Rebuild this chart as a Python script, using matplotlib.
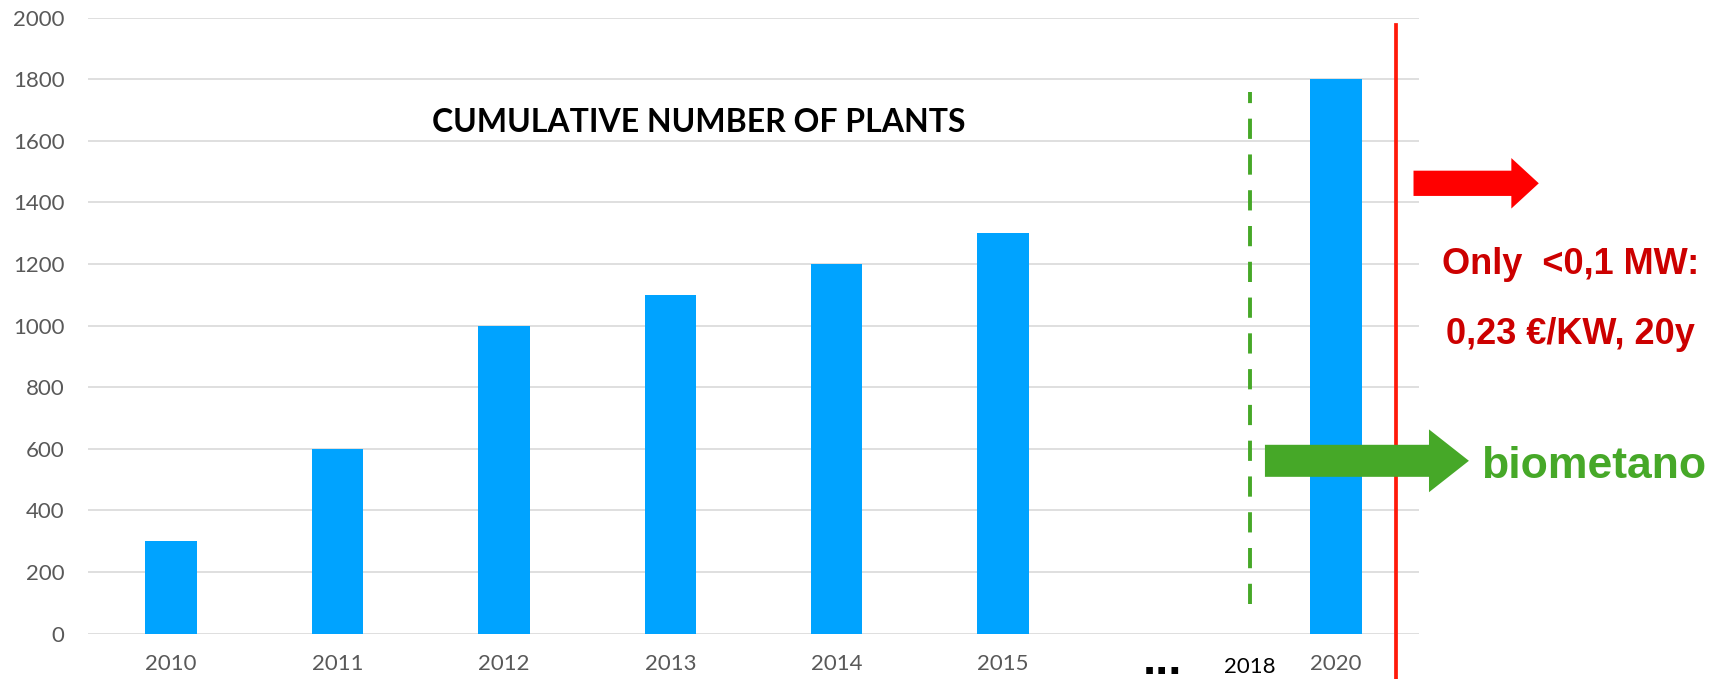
import matplotlib
matplotlib.use('Agg')
import matplotlib.pyplot as plt
from matplotlib.patches import FancyArrow

# ---- data ----
years = ['2010', '2011', '2012', '2013', '2014', '2015', '', '2020']
plants = [300, 600, 1000, 1100, 1200, 1300, 0, 1800]
yticks = [0, 200, 400, 600, 800, 1000, 1200, 1400, 1600, 1800, 2000]
title = 'CUMULATIVE NUMBER OF PLANTS'
gap_label = '...'
marker_label = '2018'
note_lines = ['Only  <0,1 MW:', '0,23 €/KW, 20y']
green_label = 'biometano'

# ---- style ----
BAR = '#00A3FF'
GRID = '#D9D9D9'
TICK = '#595959'
GREEN = '#46A828'
DARKRED = '#CC0000'

fig = plt.figure(figsize=(17.25, 6.79), dpi=100)
ax = fig.add_axes([88 / 1725, 45.4 / 679, 1331 / 1725, 616 / 679])

x = list(range(len(years)))
ax.bar(x, plants, width=0.31, color=BAR, zorder=2)

ax.set_xlim(-0.5, len(years) - 0.5)
ax.set_ylim(0, 2000)
ax.set_yticks(yticks)
ax.set_yticklabels([str(t) for t in yticks], fontsize=16, color=TICK, family='Lato')
ax.set_xticks(x)
ax.set_xticklabels(years, fontsize=16, color=TICK, family='Lato')
ax.tick_params(axis='both', length=0)
ax.tick_params(axis='x', pad=15)
ax.tick_params(axis='y', pad=17)
ax.grid(axis='y', color=GRID, lw=1.2, zorder=0)
ax.set_axisbelow(True)
for s in ax.spines.values():
    s.set_visible(False)

# gap marker "..."
ax.text(5.96, -131, gap_label, ha='center', va='baseline', fontsize=34,
        fontweight='bold', family='Liberation Sans', color='black', clip_on=False)

# title
ax.text(3.17, 1628, title, ha='center', va='baseline', fontsize=23,
        fontweight='bold', family='Lato', color='black')

# 2018 marker: dashed green line and label
mx = 6.483
ax.plot([mx, mx], [96, 1759], color=GREEN, lw=2.8, linestyle=(0, (5.2, 4)), zorder=3)
ax.text(mx, -128, marker_label, ha='center', va='baseline', fontsize=16,
        color='black', family='Lato', clip_on=False)

# red cutoff line
rx = 7.36
ax.plot([rx, rx], [1977, -200], color='#FF1A0A', lw=2.7, zorder=4, clip_on=False)

# green arrow
ga = FancyArrow(6.574, 561, 7.80 - 6.574, 0, width=104, head_width=204,
                head_length=0.24, length_includes_head=True, color=GREEN,
                lw=0, zorder=5, clip_on=False)
ax.add_patch(ga)
ax.text(8.55, 505, green_label, ha='center', va='baseline', fontsize=32,
        fontweight='bold', family='Liberation Sans', color=GREEN, clip_on=False)

# red arrow
ra = FancyArrow(7.467, 1462, 8.22 - 7.467, 0, width=82, head_width=164,
                head_length=0.165, length_includes_head=True, color='#FF0000',
                lw=0, zorder=5, clip_on=False)
ax.add_patch(ra)
ax.text(8.412, 1169, note_lines[0], ha='center', va='baseline', fontsize=26,
        fontweight='bold', family='Liberation Sans', color=DARKRED, clip_on=False)
ax.text(8.412, 940, note_lines[1], ha='center', va='baseline', fontsize=26,
        fontweight='bold', family='Liberation Sans', color=DARKRED, clip_on=False)

fig.savefig('out.png', dpi=100)
